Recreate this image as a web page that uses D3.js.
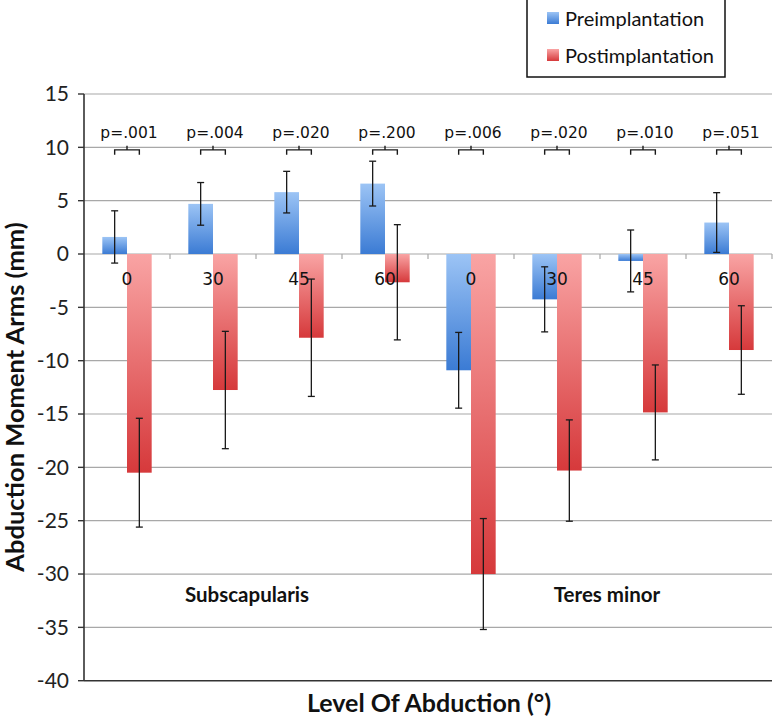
<!DOCTYPE html>
<html>
<head>
<meta charset="utf-8">
<script src="https://cdn.jsdelivr.net/npm/d3@7"></script>
<style>
  body { margin: 0; background: #fff; }
</style>
</head>
<body>
<script>
var categories = ["0", "30", "45", "60", "0", "30", "45", "60"];
var muscles = ["Subscapularis", "Teres minor"];
var seriesNames = ["Preimplantation", "Postimplantation"];
var preValues = [1.6, 4.7, 5.8, 6.6, -10.9, -4.25, -0.65, 2.95];
var preErrors = [2.45, 2.0, 1.95, 2.1, 3.55, 3.05, 2.9, 2.8];
var postValues = [-20.5, -12.75, -7.85, -2.65, -30, -20.3, -14.85, -9.0];
var postErrors = [5.1, 5.5, 5.5, 5.4, 5.2, 4.75, 4.45, 4.15];
var pLabels = ["p=.001", "p=.004", "p=.020", "p=.200", "p=.006", "p=.020", "p=.010", "p=.051"];
var yTicks = [15, 10, 5, 0, -5, -10, -15, -20, -25, -30, -35, -40];

var width = 773;
var height = 719;
var plotLeft = 84, plotRight = 772, plotTop = 94, plotBottom = 680.7;

var svg = d3.select("body")
  .append("svg")
  .attr("width", width)
  .attr("height", height);

var defs = svg.append("defs");
function gradient(id, c1, c2) {
  var g = defs.append("linearGradient")
    .attr("id", id)
    .attr("x1", 0).attr("y1", 0).attr("x2", 0).attr("y2", 1);
  g.append("stop").attr("offset", "0%").attr("stop-color", c1);
  g.append("stop").attr("offset", "100%").attr("stop-color", c2);
}
gradient("gradPre", "#9cc4f5", "#3b7bd4");
gradient("gradPost", "#f9a4a4", "#d6393b");

var x0 = d3.scaleBand()
  .domain(d3.range(categories.length))
  .range([plotLeft, plotRight]);

var x1 = d3.scaleBand()
  .domain(seriesNames)
  .range([x0.bandwidth() * 0.213, x0.bandwidth() * 0.787]);

var y = d3.scaleLinear()
  .domain([-40, 15])
  .range([plotBottom, plotTop]);

// gridlines
svg.append("g")
  .selectAll("line")
  .data(yTicks.filter(function(d) { return d !== -40; }))
  .enter()
  .append("line")
  .attr("x1", plotLeft)
  .attr("x2", plotRight)
  .attr("y1", function(d) { return y(d); })
  .attr("y2", function(d) { return y(d); })
  .attr("stroke", "#a8a8a8")
  .attr("stroke-width", 1.2);

var data = categories.map(function(c, i) {
  return [
    { i: i, s: seriesNames[0], v: preValues[i], e: preErrors[i], fill: "url(#gradPre)" },
    { i: i, s: seriesNames[1], v: postValues[i], e: postErrors[i], fill: "url(#gradPost)" }
  ];
});
var flat = [].concat.apply([], data);

// bars
svg.append("g")
  .selectAll("rect")
  .data(flat)
  .enter()
  .append("rect")
  .attr("x", function(d) { return x0(d.i) + x1(d.s); })
  .attr("width", x1.bandwidth())
  .attr("y", function(d) { return y(Math.max(0, d.v)); })
  .attr("height", function(d) { return Math.abs(y(d.v) - y(0)); })
  .attr("fill", function(d) { return d.fill; });

// category ticks on zero line
svg.append("g")
  .selectAll("line")
  .data(d3.range(1, categories.length + 1))
  .enter()
  .append("line")
  .attr("x1", function(d) { return plotLeft + d * x0.step(); })
  .attr("x2", function(d) { return plotLeft + d * x0.step(); })
  .attr("y1", y(0))
  .attr("y2", y(0) + 5)
  .attr("stroke", "#a8a8a8")
  .attr("stroke-width", 1.2);

// category labels
svg.append("g")
  .selectAll("text")
  .data(categories)
  .enter()
  .append("text")
  .attr("x", function(d, i) { return x0(i) + x0.bandwidth() / 2; })
  .attr("y", y(0) + 31)
  .attr("text-anchor", "middle")
  .attr("font-family", "DejaVu Sans, sans-serif")
  .attr("font-size", "17px")
  .attr("fill", "#111")
  .text(function(d) { return d; });

// error bars
var eb = svg.append("g")
  .attr("stroke", "#1a1a1a")
  .attr("stroke-width", 1.3);
flat.forEach(function(d) {
  var cx = x0(d.i) + x1(d.s) + x1.bandwidth() / 2;
  var yt = y(d.v + d.e), yb = y(d.v - d.e);
  eb.append("line").attr("x1", cx).attr("x2", cx).attr("y1", yt).attr("y2", yb);
  eb.append("line").attr("x1", cx - 3.5).attr("x2", cx + 3.5).attr("y1", yt).attr("y2", yt);
  eb.append("line").attr("x1", cx - 3.5).attr("x2", cx + 3.5).attr("y1", yb).attr("y2", yb);
});

// significance brackets and p-values
var br = svg.append("g")
  .attr("stroke", "#1a1a1a")
  .attr("stroke-width", 1.4)
  .attr("fill", "none");
pLabels.forEach(function(p, i) {
  var xa = x0(i) + x1(seriesNames[0]) + x1.bandwidth() / 2;
  var xb = x0(i) + x1(seriesNames[1]) + x1.bandwidth() / 2;
  var by = y(10) + 2.5;
  br.append("path")
    .attr("d", "M" + xa + "," + (by + 5) + "V" + by + "H" + xb + "V" + (by + 5) +
      "M" + ((xa + xb) / 2) + "," + by + "V" + (by - 4));
  svg.append("text")
    .attr("x", (xa + xb) / 2 + 2)
    .attr("y", y(10) - 9)
    .attr("text-anchor", "middle")
    .attr("font-family", "DejaVu Sans, sans-serif")
    .attr("font-size", "15.5px")
    .attr("fill", "#111")
    .text(p);
});

// y axis
svg.append("line")
  .attr("x1", plotLeft).attr("x2", plotLeft)
  .attr("y1", plotTop).attr("y2", plotBottom)
  .attr("stroke", "#333").attr("stroke-width", 1.6);
svg.append("line")
  .attr("x1", plotLeft).attr("x2", plotRight)
  .attr("y1", plotBottom).attr("y2", plotBottom)
  .attr("stroke", "#333").attr("stroke-width", 1.6);
var yt = svg.append("g");
yTicks.forEach(function(t) {
  yt.append("line")
    .attr("x1", plotLeft - 6).attr("x2", plotLeft)
    .attr("y1", y(t)).attr("y2", y(t))
    .attr("stroke", "#333").attr("stroke-width", 1.4);
  yt.append("text")
    .attr("x", plotLeft - 15)
    .attr("y", y(t))
    .attr("dy", "0.35em")
    .attr("text-anchor", "end")
    .attr("font-family", "Lato, sans-serif")
    .attr("font-size", "21px")
    .attr("fill", "#222")
    .text(t);
});

// muscle group labels
muscles.forEach(function(m, k) {
  var gx = x0(k * 4) + 2 * x0.step() + (k === 0 ? -9 : 7);
  svg.append("text")
    .attr("x", gx)
    .attr("y", y(-31.5) + 12)
    .attr("text-anchor", "middle")
    .attr("font-family", "Lato, sans-serif")
    .attr("font-weight", "bold")
    .attr("font-size", "20.5px")
    .attr("fill", "#111")
    .text(m);
});

// axis titles
svg.append("text")
  .attr("x", 429)
  .attr("y", 712)
  .attr("text-anchor", "middle")
  .attr("font-family", "Lato, sans-serif")
  .attr("font-weight", "bold")
  .attr("font-size", "25px")
  .attr("fill", "#111")
  .text("Level Of Abduction (°)");

svg.append("text")
  .attr("transform", "translate(24,397) rotate(-90)")
  .attr("text-anchor", "middle")
  .attr("font-family", "Lato, sans-serif")
  .attr("font-weight", "bold")
  .attr("font-size", "25.5px")
  .attr("fill", "#111")
  .text("Abduction Moment Arms (mm)");

// legend
var lg = svg.append("g");
lg.append("rect")
  .attr("x", 527).attr("y", -1)
  .attr("width", 198).attr("height", 78)
  .attr("fill", "#fff")
  .attr("stroke", "#111")
  .attr("stroke-width", 1.5);
var legendFills = ["url(#gradPre)", "url(#gradPost)"];
seriesNames.forEach(function(s, i) {
  lg.append("rect")
    .attr("x", 547).attr("y", 12 + i * 37)
    .attr("width", 12).attr("height", 12)
    .attr("fill", legendFills[i]);
  lg.append("text")
    .attr("x", 565).attr("y", 19 + i * 37)
    .attr("dy", "0.35em")
    .attr("font-family", "Lato, sans-serif")
    .attr("font-size", "20px")
    .attr("fill", "#111")
    .text(s);
});
</script>
</body>
</html>
